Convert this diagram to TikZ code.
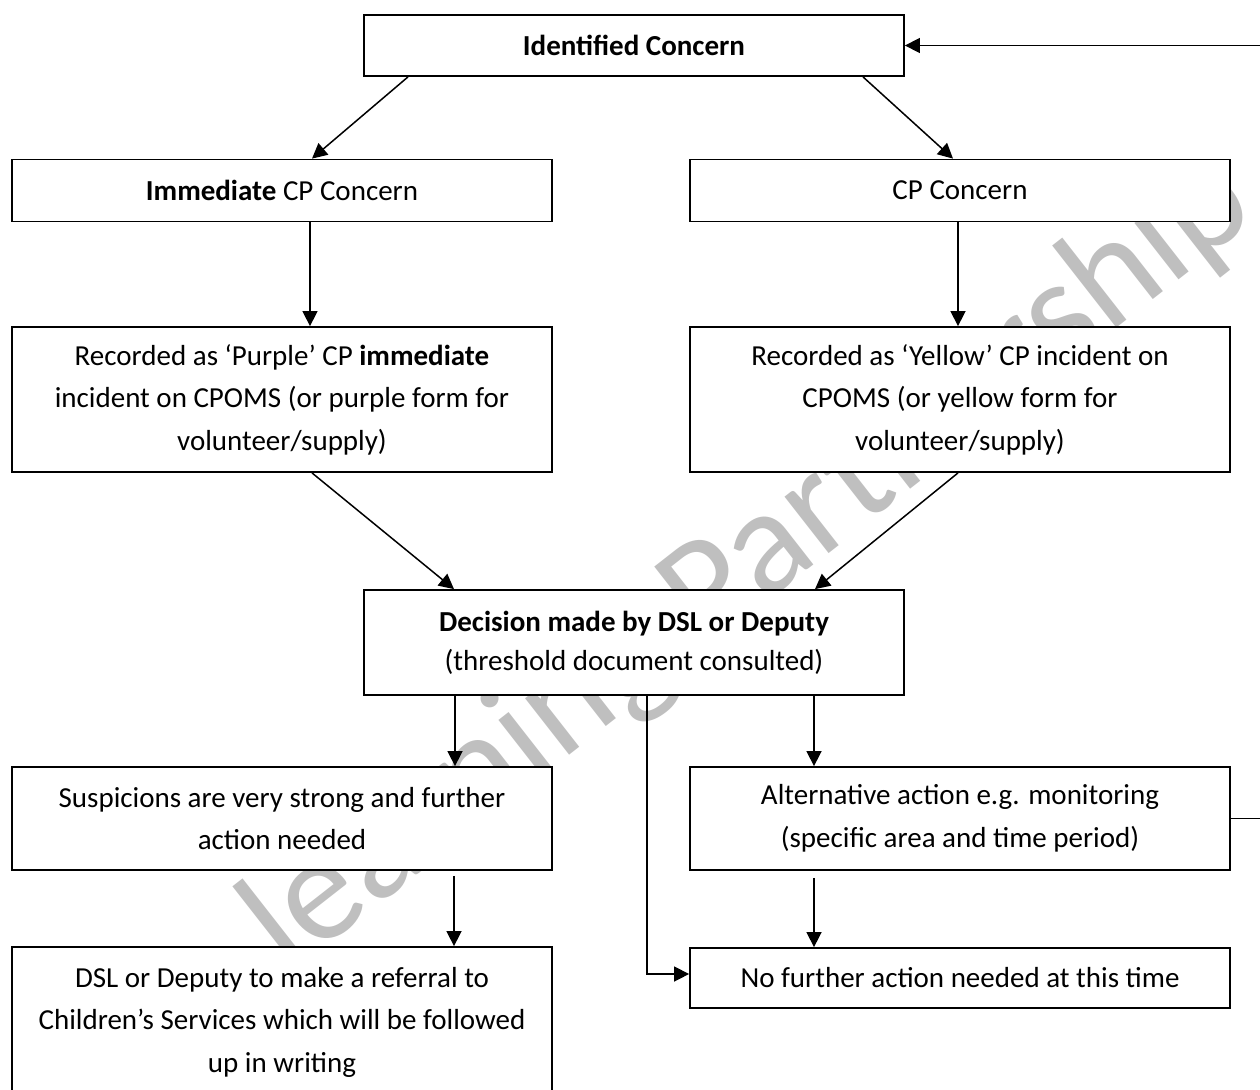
\documentclass[tikz,border=0pt]{standalone}
\usepackage{fontspec}
\setmainfont{Carlito}
\usetikzlibrary{arrows.meta,calc}

\newcommand{\boxfont}{\fontsize{29}{42.5}\selectfont}
\tikzset{
  box/.style={draw, fill=white, line width=1.8pt, minimum width=540pt, inner sep=0pt, align=center, font=\boxfont},
  arr/.style={line width=1.5pt, -{Triangle[length=15pt,width=15pt]}},
}

\begin{document}
\begin{tikzpicture}[x=1pt,y=-1pt]
    \useasboundingbox (0,0) rectangle (1260,1089);
    \clip (0,0) rectangle (1260,1089);

    %watermark
    \node[rotate=38, text=black!25, font=\fontsize{150}{150}\selectfont] (wmark) at (750,565) {learning Partnership};

    \node[box, minimum height=61pt] (ident) at (634,45.5) {\textbf{Identified Concern}};
    \node[box, minimum height=62pt] (immed) at (282,190.5) {\textbf{Immediate} CP Concern};
    \node[box, minimum height=62pt] (cpc) at (960,190.5) {CP Concern};

    \node[box, minimum height=145pt] (purple) at (282,399.5) {Recorded as ‘Purple’ CP \textbf{immediate}\\incident on CPOMS (or purple form for\\volunteer/supply)};
    \node[box, minimum height=145pt] (yellow) at (960,399.5) {Recorded as ‘Yellow’ CP incident on\\CPOMS (or yellow form for\\volunteer/supply)};

    \node[box, minimum height=105pt] (decision) at (634,642.5) {\textbf{Decision made by DSL or Deputy}\\[-3.5pt](threshold document consulted)};

    \node[box, minimum height=103pt] (suspic) at (282,818.5) {Suspicions are very strong and further\\action needed};
    \node[box, minimum height=103pt] (altact) at (960,818.5) {Alternative action e.g. monitoring\\(specific area and time period)};

    \node[box, minimum height=150pt] (referral) at (282,1022) {DSL or Deputy to make a referral to\\Children’s Services which will be followed\\up in writing};
    \node[box, minimum height=60pt] (nfa) at (960,978) {No further action needed at this time};

    \draw[arr] ([xshift=-226pt]ident.south) -- ([xshift=30pt]immed.north);
    \draw[arr] ([xshift=229pt]ident.south) -- ([xshift=-7pt]cpc.north);
    \draw[arr] ([xshift=28pt]immed.south) -- ([xshift=28pt]purple.north);
    \draw[arr] ([xshift=-2pt]cpc.south) -- ([xshift=-2pt]yellow.north);

    \draw[arr] ([xshift=30pt]purple.south) -- ([xshift=-180pt]decision.north);
    \draw[arr] ([xshift=-2pt]yellow.south) -- ([xshift=181pt]decision.north);

    \draw[arr] ([xshift=-179pt]decision.south) -- ([xshift=173pt]suspic.north);
    \draw[arr] ([xshift=180pt]decision.south) -- ([xshift=-146pt]altact.north);
    \draw[arr] ([xshift=13pt]decision.south) |- ([yshift=4pt]nfa.west);

    \draw[arr] ([xshift=172pt,yshift=-5pt]suspic.south) -- ([xshift=172pt]referral.north);
    \draw[arr] ([xshift=-146pt,yshift=-7pt]altact.south) -- ([xshift=-146pt]nfa.north);

    %back to top
    \draw[arr] (altact.east) -- ++(60,0) |- (ident.east);
\end{tikzpicture}
\end{document}
